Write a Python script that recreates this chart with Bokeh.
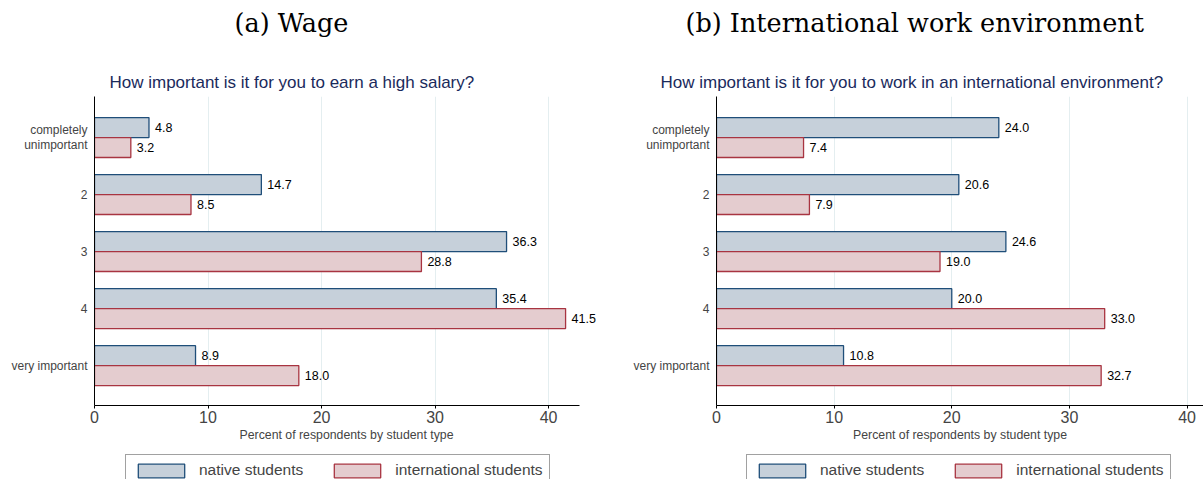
from bokeh.plotting import figure
from bokeh.layouts import row, column
from bokeh.models import (Range1d, FixedTicker, Title, Legend, LegendItem,
                          ColumnDataSource, LabelSet)
from bokeh.core.properties import value
from bokeh.embed import file_html
from bokeh.resources import INLINE

categories = ["completely\nunimportant", "2", "3", "4", "very important"]
wage_native = [4.8, 14.7, 36.3, 35.4, 8.9]
wage_intl = [3.2, 8.5, 28.8, 41.5, 18.0]
intl_native = [24.0, 20.6, 24.6, 20.0, 10.8]
intl_intl = [7.4, 7.9, 19.0, 33.0, 32.7]
x_ticks = [0, 10, 20, 30, 40]
series_names = ["native students", "international students"]

NATIVE_FILL = "#c6d0da"
NATIVE_LINE = "#1f4e79"
INTL_FILL = "#e4cccf"
INTL_LINE = "#a83441"
SUB_COLOR = "#1a2a5c"
SANS = "Liberation Sans"
SERIF = "DejaVu Serif"


def sources(native, intl):
    pos = list(range(len(categories)))
    src_n = ColumnDataSource(dict(y=[v - 0.175 for v in pos], x=native,
                                  lab=["%.1f" % v for v in native]))
    src_i = ColumnDataSource(dict(y=[v + 0.175 for v in pos], x=intl,
                                  lab=["%.1f" % v for v in intl]))
    return src_n, src_i


def panel(title, subtitle, native, intl, fw, left, right, xmax, axis_end,
          t_off, s_off):
    pos = list(range(len(categories)))
    p = figure(frame_width=fw, frame_height=309, output_backend="svg",
               toolbar_location=None,
               x_range=Range1d(0, xmax), y_range=Range1d(4.70, -0.72),
               min_border_left=left, min_border_right=right,
               min_border_top=0, min_border_bottom=49)
    p.outline_line_color = None
    p.background_fill_color = "white"
    p.border_fill_color = "white"

    src_n, src_i = sources(native, intl)
    p.hbar(y="y", right="x", left=0, height=0.35, source=src_n,
           fill_color=NATIVE_FILL, line_color=NATIVE_LINE, line_width=1.3)
    p.hbar(y="y", right="x", left=0, height=0.35, source=src_i,
           fill_color=INTL_FILL, line_color=INTL_LINE, line_width=1.3)
    for s in (src_n, src_i):
        p.add_layout(LabelSet(x="x", y="y", text="lab", source=s, x_offset=6,
                              text_baseline="middle", text_align="left",
                              text_font=value(SANS), text_font_size="12.5px",
                              text_color="black"))

    p.xaxis.ticker = FixedTicker(ticks=x_ticks)
    p.xaxis.bounds = (0, axis_end)
    p.xaxis.axis_label = "Percent of respondents by student type"
    p.xaxis.axis_label_text_font = SANS
    p.xaxis.axis_label_text_font_size = "12.3px"
    p.xaxis.axis_label_text_font_style = "normal"
    p.xaxis.axis_label_standoff = 2
    p.xaxis.major_label_text_font = SANS
    p.xaxis.major_label_text_font_size = "16px"
    p.xaxis.major_label_standoff = 2
    p.xaxis.major_tick_in = 0
    p.xaxis.major_tick_out = 3
    p.xaxis.minor_tick_line_color = None
    p.xaxis.axis_line_color = "black"
    p.xaxis.major_tick_line_color = "black"

    p.yaxis.ticker = FixedTicker(ticks=pos)
    p.yaxis.major_label_overrides = {i: c for i, c in enumerate(categories)}
    p.yaxis.major_label_text_font = SANS
    p.yaxis.major_label_text_font_size = "12px"
    p.yaxis.major_label_text_line_height = 1.05
    p.yaxis.major_tick_line_color = None
    p.yaxis.major_tick_in = 0
    p.yaxis.major_tick_out = 0
    p.yaxis.minor_tick_line_color = None
    p.yaxis.major_label_standoff = 7
    p.yaxis.axis_line_color = "black"

    p.xgrid.ticker = FixedTicker(ticks=x_ticks[1:])
    p.xgrid.grid_line_color = "#e4eef0"
    p.ygrid.grid_line_color = None

    p.add_layout(Title(text=subtitle, align="left", offset=s_off, standoff=10,
                       text_font=SANS, text_font_size="17px",
                       text_font_style="normal", text_color=SUB_COLOR), "above")
    p.add_layout(Title(text=" ", align="left", standoff=19,
                       text_font=SANS, text_font_size="1px"), "above")
    p.add_layout(Title(text=title, align="left", offset=t_off, standoff=11,
                       text_font=SERIF, text_font_size="25.5px",
                       text_font_style="normal", text_color="black"), "above")
    return p


def legend_fig(width, leg_x, native, intl):
    # legend strip: the series sit tiny behind the opaque legend box
    lf = figure(frame_width=width, frame_height=25, output_backend="svg",
                toolbar_location=None, x_axis_location=None, y_axis_location=None,
                x_range=Range1d(-25, 75), y_range=Range1d(-20, 10),
                min_border_left=0, min_border_right=0,
                min_border_top=0, min_border_bottom=0)
    lf.outline_line_color = None
    lf.xgrid.grid_line_color = None
    lf.ygrid.grid_line_color = None
    src_n, src_i = sources(native, intl)
    rn = lf.hbar(y="y", right="x", left=0, height=0.35, source=src_n,
                 fill_color=NATIVE_FILL, line_color=NATIVE_LINE, line_width=1.3)
    ri = lf.hbar(y="y", right="x", left=0, height=0.35, source=src_i,
                 fill_color=INTL_FILL, line_color=INTL_LINE, line_width=1.3)
    legend = Legend(items=[LegendItem(label=series_names[0], renderers=[rn]),
                           LegendItem(label=series_names[1], renderers=[ri])],
                    orientation="horizontal", location=(leg_x, -7),
                    glyph_width=58, glyph_height=17, label_height=17,
                    label_standoff=9, spacing=25,
                    padding=6, margin=0, border_line_color="#444444",
                    border_line_width=1, label_text_font=SANS,
                    label_text_font_size="15.5px", background_fill_color="white",
                    background_fill_alpha=1.0)
    lf.add_layout(legend)
    return lf


pa = panel("(a) Wage", "How important is it for you to earn a high salary?",
           wage_native, wage_intl, 504, 94, 3, 44.4, 42.75, 140, 15)
pb = panel("(b) International work environment",
           "How important is it for you to work in an international environment?",
           intl_native, intl_intl, 487, 115, 0, 41.4, 41.4, -31, -56)
la = legend_fig(601, 125, wage_native, wage_intl)
lb = legend_fig(602, 145, intl_native, intl_intl)

layout = column(row(pa, pb), row(la, lb))
open("out.html", "w").write(file_html(layout, INLINE))
